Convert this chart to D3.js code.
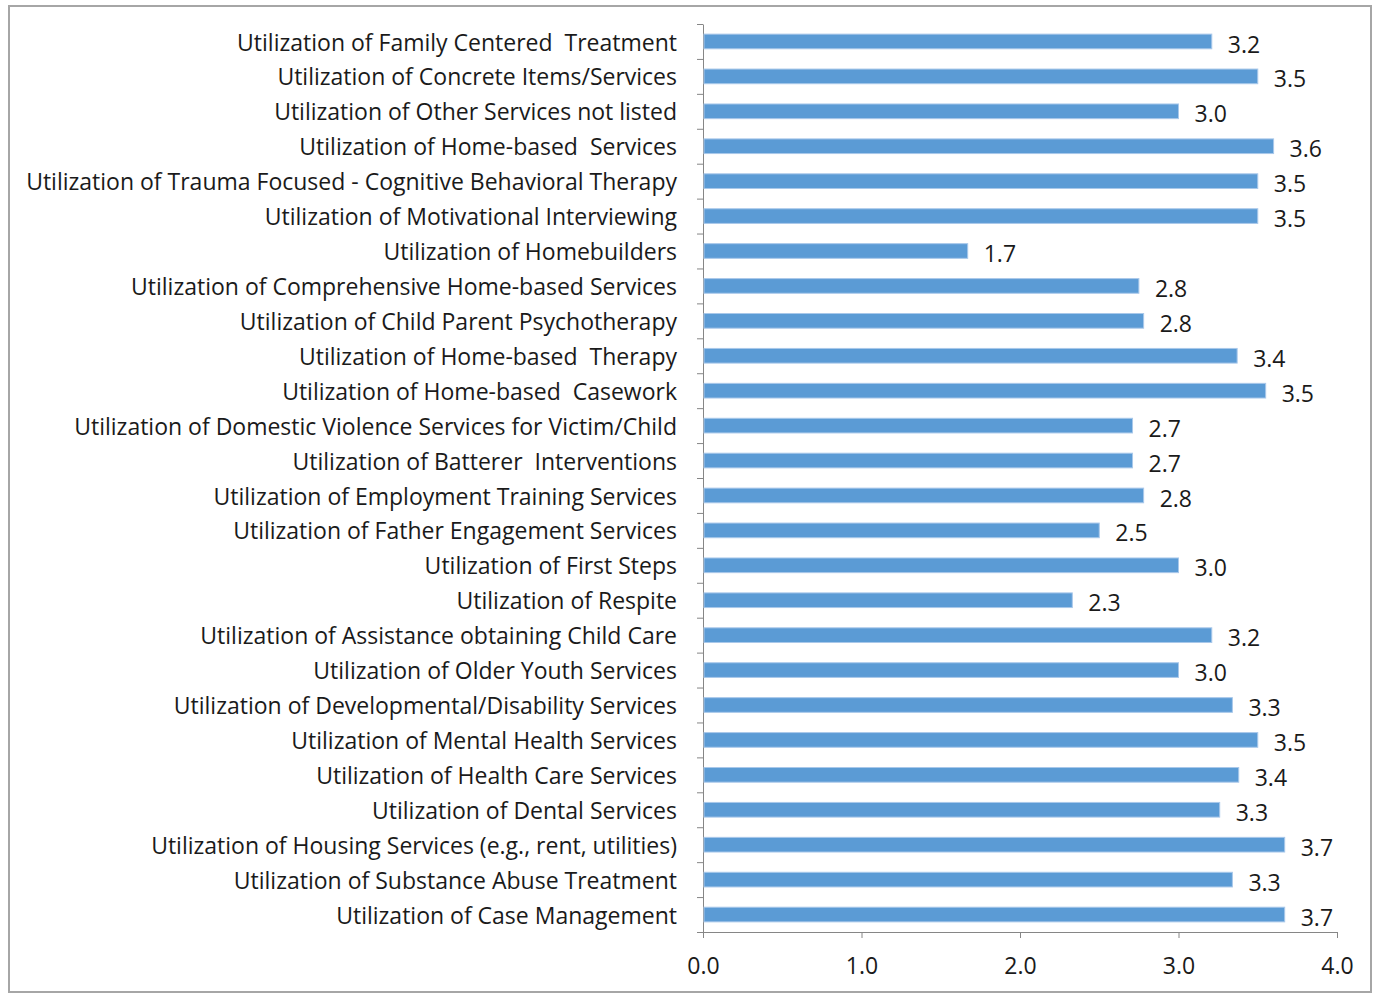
<!DOCTYPE html>
<html>
<head>
<meta charset="utf-8">
<script src="https://cdn.jsdelivr.net/npm/d3@7"></script>
<style>
  body { margin: 0; background: #fff; }
  text { font-family: "Open Sans", sans-serif; fill: #1a1a1a; }
</style>
</head>
<body>
<div id="chart"></div>
<script>
// categories, top to bottom as shown
const categories = [
    "Utilization of Family Centered  Treatment",
    "Utilization of Concrete Items/Services",
    "Utilization of Other Services not listed",
    "Utilization of Home-based  Services",
    "Utilization of Trauma Focused - Cognitive Behavioral Therapy",
    "Utilization of Motivational Interviewing",
    "Utilization of Homebuilders",
    "Utilization of Comprehensive Home-based Services",
    "Utilization of Child Parent Psychotherapy",
    "Utilization of Home-based  Therapy",
    "Utilization of Home-based  Casework",
    "Utilization of Domestic Violence Services for Victim/Child",
    "Utilization of Batterer  Interventions",
    "Utilization of Employment Training Services",
    "Utilization of Father Engagement Services",
    "Utilization of First Steps",
    "Utilization of Respite",
    "Utilization of Assistance obtaining Child Care",
    "Utilization of Older Youth Services",
    "Utilization of Developmental/Disability Services",
    "Utilization of Mental Health Services",
    "Utilization of Health Care Services",
    "Utilization of Dental Services",
    "Utilization of Housing Services (e.g., rent, utilities)",
    "Utilization of Substance Abuse Treatment",
    "Utilization of Case Management"
];

const values = [
    3.21, 3.50, 3.00, 3.60, 3.50, 3.50, 1.67, 2.75, 2.78, 3.37, 3.55, 2.71, 2.71,
    2.78, 2.50, 3.00, 2.33, 3.21, 3.00, 3.34, 3.50, 3.38, 3.26, 3.67, 3.34, 3.67
];

const xTicks = [0, 1, 2, 3, 4];

const width = 1373;
const height = 995;
const plot = { left: 703, right: 1337, top: 24, bottom: 932 };
const fontSize = "23px";

const svg = d3.select("#chart").append("svg")
    .attr("width", width)
    .attr("height", height);

// outer frame
svg.append("rect")
    .attr("x", 9).attr("y", 6)
    .attr("width", 1362).attr("height", 986)
    .attr("fill", "#fff")
    .attr("stroke", "#a6a6a6")
    .attr("stroke-width", 2);

const x = d3.scaleLinear().domain([0, 4]).range([plot.left, plot.right]);

const y = d3.scaleBand()
    .domain(categories)
    .range([plot.top, plot.bottom])
    .paddingInner(0.58)
    .paddingOuter(0.29);

// boundary ticks for the category axis
const yIdx = d3.scaleLinear().domain([0, categories.length]).range([plot.top, plot.bottom]);

const yAxis = svg.append("g")
    .attr("transform", `translate(${plot.left},0)`)
    .call(d3.axisLeft(yIdx).tickValues(d3.range(categories.length + 1)).tickFormat("").tickSize(6).tickSizeOuter(0));
yAxis.selectAll("line, path").attr("stroke", "#868686");

const xAxis = svg.append("g")
    .attr("transform", `translate(0,${plot.bottom})`)
    .call(d3.axisBottom(x).tickValues(xTicks).tickFormat(d3.format(".1f")).tickSize(6).tickSizeOuter(0).tickPadding(20));
xAxis.selectAll("line, path").attr("stroke", "#868686");
xAxis.selectAll("text")
    .style("font-size", fontSize)
    .style("font-family", "'Open Sans', sans-serif")
    .attr("fill", "#1a1a1a");

// bars
svg.append("g").selectAll("rect")
    .data(values)
    .join("rect")
    .attr("x", x(0) + 1)
    .attr("y", (d, i) => y(categories[i]))
    .attr("width", d => x(d) - x(0) - 1)
    .attr("height", y.bandwidth())
    .attr("fill", "#5b9bd5")
    .attr("stroke", "#a9c8ea")
    .attr("stroke-width", 1);

// value labels
svg.append("g").selectAll("text")
    .data(values)
    .join("text")
    .attr("x", d => x(d) + 16)
    .attr("y", (d, i) => y(categories[i]) + y.bandwidth() / 2 + 3)
    .attr("dy", "0.35em")
    .style("font-size", fontSize)
    .text(d => d3.format(".1f")(d));

// category labels
svg.append("g").selectAll("text")
    .data(categories)
    .join("text")
    .attr("x", 677)
    .attr("y", d => y(d) + y.bandwidth() / 2 + 1)
    .attr("dy", "0.35em")
    .attr("text-anchor", "end")
    .style("font-size", fontSize)
    .style("white-space", "pre")
    .attr("xml:space", "preserve")
    .text(d => d);
</script>
</body>
</html>
